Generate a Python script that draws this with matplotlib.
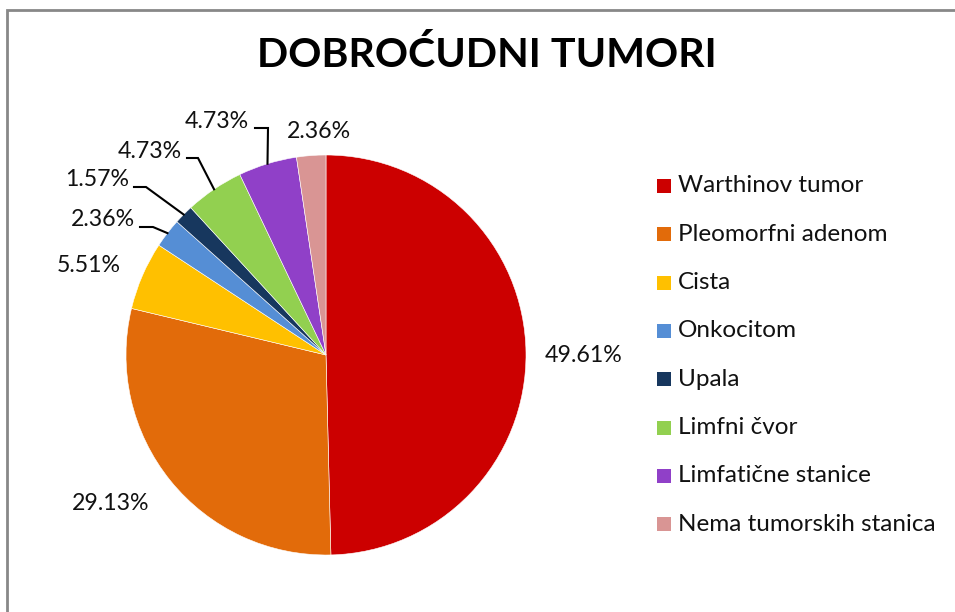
import numpy as np
import matplotlib
matplotlib.use('Agg')
import matplotlib.pyplot as plt
from matplotlib.patches import Rectangle

plt.rcParams['font.family'] = ['Lato', 'DejaVu Sans']

title = 'DOBROĆUDNI TUMORI'
categories = ['Warthinov tumor', 'Pleomorfni adenom', 'Cista', 'Onkocitom',
              'Upala', 'Limfni čvor', 'Limfatične stanice', 'Nema tumorskih stanica']
values = [49.61, 29.13, 5.51, 2.36, 1.57, 4.73, 4.73, 2.36]
colors = ['#CC0000', '#E26B0A', '#FFC000', '#558ED5',
          '#17375E', '#92D050', '#9040C8', '#D99594']

W, H = 955, 612
# pie geometry in pixel units (y measured from top)
cx, cy, rad = 326, 355, 200

# label centres (pixels from top-left), and elbow of leader lines (None = no leader)
label_pos = [(584, 355), (111, 503), (89, 265), (103, 220),
             (97, 180), (150, 152), (217, 122), (319, 131)]
leader = [None, None, None,
          [(140, 227), (153, 227)],
          [(134, 187), (146, 187)],
          [(187, 158), (198, 158)],
          [(255, 128), (268, 128)],
          None]

fig = plt.figure(figsize=(W / 100, H / 100), dpi=100)
ax = fig.add_axes([0, 0, 1, 1])
ax.set_xlim(0, W)
ax.set_ylim(0, H)
ax.set_aspect('equal')
ax.axis('off')

def py(y):
    return H - y

wedges, _ = ax.pie(values, colors=colors, startangle=90, counterclock=False,
                   radius=rad, center=(cx, py(cy)),
                   wedgeprops=dict(linewidth=0.4, edgecolor='white'))
ax.set_xlim(0, W)
ax.set_ylim(0, H)

for i, w in enumerate(wedges):
    mid = np.deg2rad((w.theta1 + w.theta2) / 2)
    lx, ly = label_pos[i]
    ax.text(lx, py(ly), f'{values[i]:.2f}%', ha='center', va='center',
            fontsize=16.7, color='#111111')
    if leader[i] is not None:
        ex = cx + rad * np.cos(mid)
        ey = cy - rad * np.sin(mid)
        (x0, y0), (x1, y1) = leader[i]
        ax.plot([x0, x1, ex], [py(y0), py(y1), py(ey)], color='black', lw=1.5,
                solid_joinstyle='miter')

ax.text(487, py(55), title, ha='center', va='center', fontsize=29.6,
        fontweight='bold', color='black')

# legend
for i, name in enumerate(categories):
    ly = 186 + i * 48.3
    ax.add_patch(Rectangle((657, py(ly) - 7), 14, 14, color=colors[i], lw=0))
    ax.text(678, py(ly), name, ha='left', va='center', fontsize=17.5,
            color='#111111')

ax.add_patch(Rectangle((7, py(10) - 700), 1000, 700, fill=False,
                       edgecolor='#888888', lw=2, clip_on=False))

fig.savefig('out.png', dpi=100)
